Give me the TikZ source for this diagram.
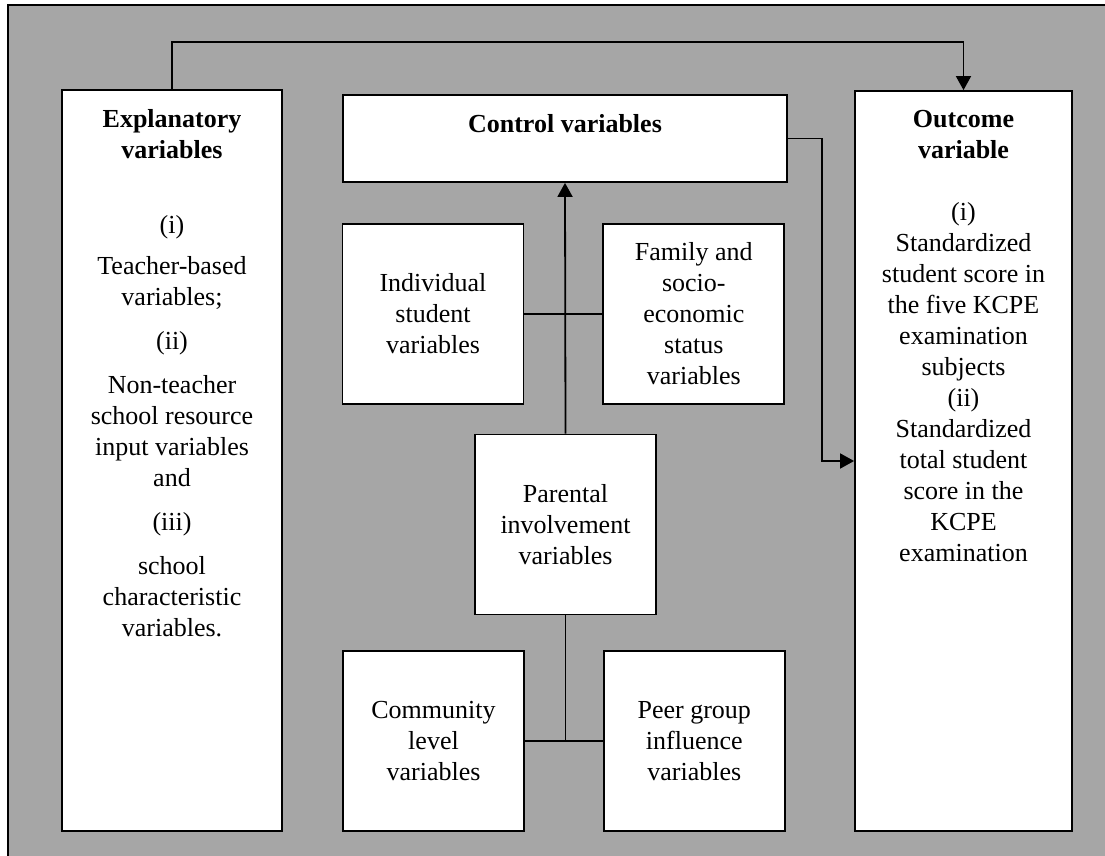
\documentclass[tikz,border=0pt]{standalone}
\usepackage{fontspec}
\setmainfont{Liberation Serif}
\usetikzlibrary{arrows.meta,positioning}

\begin{document}
\begin{tikzpicture}[
    x=0.5pt, y=-0.5pt,
    every node/.style={font=\fontsize{13}{15.5}\selectfont},
    box/.style={draw, fill=white, line width=0.9pt, inner sep=0pt},
    smallbox/.style={box, align=center, minimum width=90.5pt, minimum height=90pt},
    flow/.style={-{Triangle[length=7pt, width=7.5pt]}, line width=0.9pt},
    link/.style={line width=0.9pt}
]
\useasboundingbox (0,0) rectangle (1105,856);
\filldraw[fill=black!35, line width=1pt] (8,5) rectangle (1125,875);

% the three columns
\node[box] (expl) at (172,460.5) {\parbox[c][370.5pt][t]{110pt}{\centering\vspace*{9.5pt}%
    \textbf{Explanatory\\variables}\\[22pt]
    (i)\\[5pt]
    Teacher-based\\variables;\\[6.5pt]
    (ii)\\[6.5pt]
    Non-teacher\\school resource\\input variables\\and\\[6.5pt]
    (iii)\\[6.5pt]
    school\\characteristic\\variables.}};
\node[box] (ctrl) at (565,138.5) {\parbox[c][43.5pt][t]{222pt}{\centering\vspace*{9.5pt}%
    \textbf{Control variables}}};
\node[box] (outc) at (963.5,461) {\parbox[c][370pt][t]{108.5pt}{\centering\vspace*{9.5pt}%
    \textbf{Outcome\\variable}\\[15.5pt]
    (i)\\Standardized\\student score in\\the five KCPE\\examination\\subjects\\(ii)\\Standardized\\total student\\score in the\\KCPE\\examination}};

% control variable groups
\node[smallbox] (indiv) at (433,314) {Individual\\student\\variables};
\node[smallbox, right=39pt of indiv] (family) {Family and\\socio-\\economic\\status\\variables};
\node[smallbox] (parent) at (565.5,524.5) {Parental\\involvement\\variables};
\node[smallbox] (comm) at (433.5,741) {Community\\level\\variables};
\node[smallbox, right=39pt of comm] (peer) {Peer group\\influence\\variables};

\coordinate (topline) at (500,42);
\draw[flow] (expl.north) -- (expl.north |- topline) -| (outc.north);
\draw[flow] (ctrl.east) -- ++(34,0) |- (outc.west);
\draw[flow] (parent.north) -- (ctrl.south);
\draw[link] (indiv.east) -- (family.west);
\draw[link] (comm.east) -- (peer.west);
\draw[link] (parent.south) -- (parent.south |- comm.east);
\end{tikzpicture}
\end{document}
